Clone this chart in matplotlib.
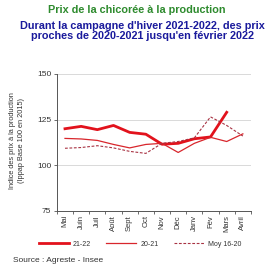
import numpy as np
import matplotlib
matplotlib.use('Agg')
import matplotlib.pyplot as plt
from matplotlib.lines import Line2D

# ---------------------------------------------------------------- DATA
mois = ['Mai', 'Juin', 'Juil', 'Août', 'Sept', 'Oct', 'Nov', 'Déc',
        'Janv', 'Fév', 'Mars', 'Avril']
prix_21_22 = [120.0, 121.3, 119.5, 121.8, 118.0, 117.0, 111.5, 112.0, 114.5, 115.5, 129.0]
prix_20_21 = [114.7, 114.4, 113.6, 111.4, 109.5, 111.4, 112.0, 107.0, 112.0, 115.3, 113.0, 117.2]
moy_16_20 = [109.3, 109.7, 110.7, 109.5, 107.6, 106.5, 112.0, 113.0, 115.0, 126.5, 121.8, 116.0]
y_ticks = [75, 100, 125, 150]

plt.rcParams['font.family'] = ['Liberation Sans', 'DejaVu Sans']

rouge = '#e2121c'
rouge_fin = '#d8262c'
bordeaux = '#a83242'
gris = '#555555'
texte = '#333333'

# ---------------------------------------------------------------- FIGURE
fig = plt.figure(figsize=(2.71, 2.70), dpi=100)
ax = fig.add_axes([0.210, 0.219, 0.716, 0.507])

x = np.arange(len(mois))
ax.plot(x[:len(prix_21_22)], prix_21_22, color=rouge, lw=2.0)
ax.plot(x, prix_20_21, color=rouge_fin, lw=0.9)
ax.plot(x, moy_16_20, color=bordeaux, lw=0.8, ls=(0, (2.5, 1.5)))

ax.set_ylim(75, 150)
ax.set_xlim(-0.5, len(mois) - 0.5)
ax.set_yticks(y_ticks)
ax.set_yticklabels([str(v) for v in y_ticks], fontsize=6, color=texte)
ax.set_xticks(x)
ax.set_xticklabels(mois, rotation=90, fontsize=5.5, color=texte)
ax.set_xticks(np.arange(-0.5, len(mois)), minor=True)
ax.tick_params(axis='x', which='major', length=0, pad=3)
ax.tick_params(axis='x', which='minor', length=2.5, width=0.6, color=gris)
ax.tick_params(axis='y', length=2.5, width=0.6, color=gris, pad=1.5)

for v in y_ticks[1:]:
    ax.axhline(v, color='#d9d9d9', lw=0.7, zorder=0)

for s in ['top', 'right']:
    ax.spines[s].set_visible(False)
for s in ['left', 'bottom']:
    ax.spines[s].set_color(gris)
    ax.spines[s].set_linewidth(0.7)

fig.text(0.063, 0.48, 'Indice des prix à la production\n(Ippap Base 100 en 2015)',
         rotation=90, ha='center', va='center', fontsize=5.3, color=texte,
         linespacing=1.35)

# ---------------------------------------------------------------- TEXTS
fig.text(0.506, 0.962, 'Prix de la chicorée à la production', ha='center',
         va='center', fontsize=7.8, fontweight='bold', color='#2e8b2e')
fig.text(0.524, 0.885, "Durant la campagne d'hiver 2021-2022, des prix\nproches de 2020-2021 jusqu'en février 2022",
         ha='center', va='center', fontsize=7.8, fontweight='bold', color='#1a1a9c',
         linespacing=1.05)

handles = [Line2D([], [], color=rouge, lw=2.0),
           Line2D([], [], color=rouge_fin, lw=0.9),
           Line2D([], [], color=bordeaux, lw=0.8, ls=(0, (2.5, 1.5)))]
fig.legend(handles, ['21-22', '20-21', 'Moy 16-20'], loc='center',
           bbox_to_anchor=(0.517, 0.096), ncol=3, frameon=False, fontsize=5,
           handlelength=4.3, handletextpad=0.6, columnspacing=2.2,
           labelcolor=texte)

fig.text(0.048, 0.037, 'Source : Agreste - Insee', fontsize=6, color=texte,
         va='center')

fig.savefig('out.png', dpi=100)
